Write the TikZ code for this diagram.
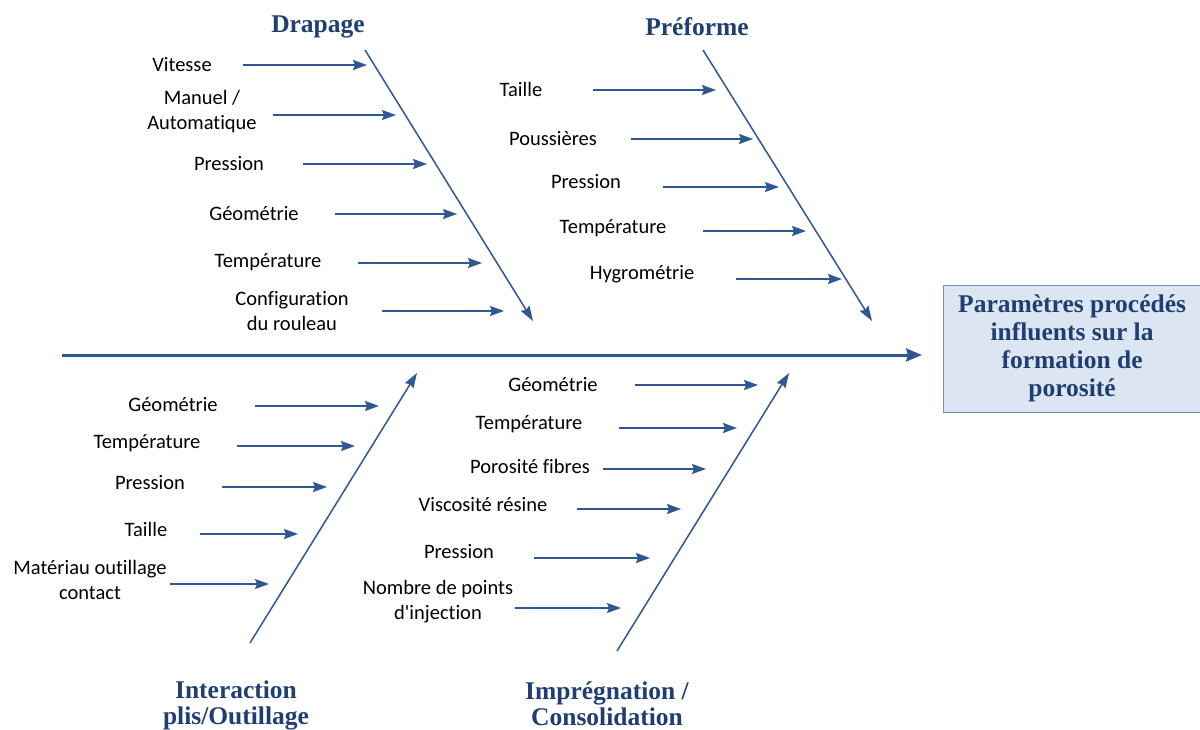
\documentclass[tikz,border=0pt]{standalone}
\usepackage{fontspec}
\setmainfont[Ligatures={NoCommon}]{Carlito}
\newfontfamily\titlefont{Liberation Serif}
\usetikzlibrary{arrows.meta}
\definecolor{linecol}{RGB}{47,87,148}
\definecolor{titlecol}{RGB}{31,63,115}
\definecolor{boxfill}{RGB}{220,230,242}
\definecolor{boxdraw}{RGB}{120,142,175}
\tikzset{
  lbl/.style={font=\fontsize{20.5}{25}\selectfont, align=center, text=black, inner sep=0pt},
  ttl/.style={font=\titlefont\bfseries\fontsize{25.5}{26}\selectfont, align=center, text=titlecol, inner sep=0pt},
  subarrow/.style={draw=linecol, line width=1.4pt, -{Stealth[length=14pt,width=10pt,inset=2pt]}},
  bone/.style={draw=linecol, line width=1.5pt, -{Stealth[length=15pt,width=10pt,inset=2pt]}},
  spine/.style={draw=linecol, line width=3pt, -{Stealth[length=16pt,width=13pt,inset=2pt]}},
}
\begin{document}
\begin{tikzpicture}[x=1pt,y=-1pt]
\useasboundingbox (0,0) rectangle (1200,729);
% effect box
\node[draw=boxdraw, line width=1.2pt, fill=boxfill, minimum width=257pt, minimum height=127pt, anchor=north west, inner sep=0pt,
      font=\titlefont\bfseries\fontsize{25.5}{28}\selectfont, text=titlecol, align=center] (effect) at (943,285)
  {\raisebox{-3pt}{\begin{tabular}{@{}c@{}}Paramètres procédés\\influents sur la\\formation de\\porosité\end{tabular}}};
% spine
\coordinate (spineS) at (62,355);
\coordinate (spineE) at (922,355);
\draw[spine] (spineS) -- (spineE);
% bones
\coordinate (drS) at (365,50);  \coordinate (drE) at (533,321);
\coordinate (prS) at (703,50);  \coordinate (prE) at (872,321);
\coordinate (inS) at (250,643); \coordinate (inE) at (417,373);
\coordinate (imS) at (617,651); \coordinate (imE) at (789,373);
\draw[bone] (drS) -- (drE);
\draw[bone] (prS) -- (prE);
\draw[bone] (inS) -- (inE);
\draw[bone] (imS) -- (imE);
% titles
\node[ttl] (tDr) at (318,27) {Drapage};
\node[ttl] (tPr) at (697,27) {Préforme};
\node[ttl] (tIn) at (236,705) {Interaction\\plis/Outillage};
\node[ttl] (tIm) at (607,704) {Imprégnation /\\Consolidation};
% Drapage causes
\node[lbl] (d1) at (182,65) {Vitesse};
\node[lbl] (d2) at (202,112) {Manuel /\\Automatique};
\node[lbl] (d3) at (229,164) {Pression};
\node[lbl] (d4) at (254,214) {Géométrie};
\node[lbl] (d5) at (268,262) {Température};
\node[lbl] (d6) at (292,311) {Configuration\\du rouleau};
\coordinate (d1a) at (243,65);  \coordinate (d1b) at (367,65);
\coordinate (d2a) at (273,115); \coordinate (d2b) at (396,115);
\coordinate (d3a) at (303,164); \coordinate (d3b) at (427,164);
\coordinate (d4a) at (335,214); \coordinate (d4b) at (457,214);
\coordinate (d5a) at (358,263); \coordinate (d5b) at (482,263);
\coordinate (d6a) at (382,311); \coordinate (d6b) at (504,311);
\foreach \i in {1,...,6} {\draw[subarrow] (d\i a) -- (d\i b);}
% Preforme causes
\node[lbl] (p1) at (521,89) {Taille};
\node[lbl] (p2) at (553,139) {Poussières};
\node[lbl] (p3) at (586,182) {Pression};
\node[lbl] (p4) at (613,228) {Température};
\node[lbl] (p5) at (642,274) {Hygrométrie};
\coordinate (p1a) at (593,90);  \coordinate (p1b) at (716,90);
\coordinate (p2a) at (631,139); \coordinate (p2b) at (753,139);
\coordinate (p3a) at (663,187); \coordinate (p3b) at (779,187);
\coordinate (p4a) at (703,231); \coordinate (p4b) at (806,231);
\coordinate (p5a) at (736,279); \coordinate (p5b) at (842,279);
\foreach \i in {1,...,5} {\draw[subarrow] (p\i a) -- (p\i b);}
% Interaction causes
\node[lbl] (i1) at (173,405) {Géométrie};
\node[lbl] (i2) at (147,443) {Température};
\node[lbl] (i3) at (150,483) {Pression};
\node[lbl] (i4) at (146,529) {Taille};
\node[lbl] (i5) at (90,580) {Matériau outillage\\contact};
\coordinate (i1a) at (255,406); \coordinate (i1b) at (379,406);
\coordinate (i2a) at (237,446); \coordinate (i2b) at (355,446);
\coordinate (i3a) at (222,487); \coordinate (i3b) at (327,487);
\coordinate (i4a) at (200,534); \coordinate (i4b) at (298,534);
\coordinate (i5a) at (170,584); \coordinate (i5b) at (269,584);
\foreach \i in {1,...,5} {\draw[subarrow] (i\i a) -- (i\i b);}
% Impregnation causes
\node[lbl] (m1) at (553,385) {Géométrie};
\node[lbl] (m2) at (529,424) {Température};
\node[lbl] (m3) at (530,466) {Porosité fibres};
\node[lbl] (m4) at (483,505) {Viscosité résine};
\node[lbl] (m5) at (459,552) {Pression};
\node[lbl] (m6) at (438,602) {Nombre de points\\d\textquotesingle injection};
\coordinate (m1a) at (635,385); \coordinate (m1b) at (758,385);
\coordinate (m2a) at (619,428); \coordinate (m2b) at (737,428);
\coordinate (m3a) at (603,469); \coordinate (m3b) at (706,469);
\coordinate (m4a) at (577,509); \coordinate (m4b) at (681,509);
\coordinate (m5a) at (534,558); \coordinate (m5b) at (650,558);
\coordinate (m6a) at (515,608); \coordinate (m6b) at (621,608);
\foreach \i in {1,...,6} {\draw[subarrow] (m\i a) -- (m\i b);}
\end{tikzpicture}
\end{document}
